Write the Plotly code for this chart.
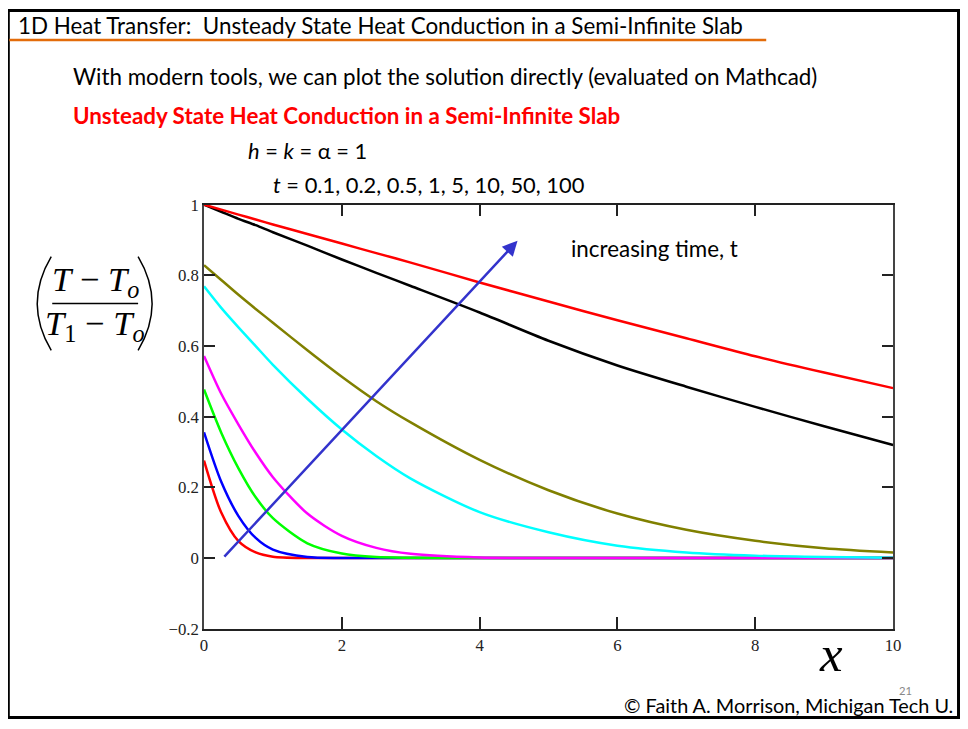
import plotly.graph_objects as go

x_vals = [0, 0.25, 0.5, 0.75, 1, 1.5, 2, 2.5, 3, 4, 5, 6, 7, 8, 9, 10]

# dimensionless temperature for each time
t_01 = [0.276, 0.129, 0.048, 0.016, 0.004, 0.0003, 0, 0, 0, 0, 0, 0, 0, 0, 0, 0]
t_02 = [0.356, 0.216, 0.119, 0.057, 0.024, 0.003, 0.0003, 0, 0, 0, 0, 0, 0, 0, 0, 0]
t_05 = [0.477, 0.355, 0.254, 0.172, 0.113, 0.042, 0.013, 0.003, 0.001, 0, 0, 0, 0, 0, 0, 0]
t_1 = [0.572, 0.465, 0.378, 0.298, 0.229, 0.126, 0.063, 0.029, 0.012, 0.0014, 0.0002, 0, 0, 0, 0, 0]
t_5 = [0.769, 0.708, 0.653, 0.6, 0.547, 0.451, 0.364, 0.289, 0.225, 0.13, 0.073, 0.035, 0.016, 0.007, 0.003, 0.001]
t_10 = [0.829, 0.787, 0.745, 0.705, 0.666, 0.588, 0.513, 0.444, 0.384, 0.278, 0.192, 0.126, 0.08, 0.049, 0.028, 0.016]
t_50 = [1.0, 0.98, 0.96, 0.942, 0.922, 0.884, 0.845, 0.807, 0.77, 0.695, 0.615, 0.545, 0.485, 0.428, 0.373, 0.32]
t_100 = [1.0, 0.986, 0.972, 0.958, 0.944, 0.917, 0.89, 0.863, 0.836, 0.78, 0.726, 0.673, 0.622, 0.571, 0.525, 0.481]

series = [
    ("t=0.1", t_01, "#ff0000"),
    ("t=0.2", t_02, "#0000ff"),
    ("t=0.5", t_05, "#00ff00"),
    ("t=1", t_1, "#ff00ff"),
    ("t=5", t_5, "#00ffff"),
    ("t=10", t_10, "#808000"),
    ("t=50", t_50, "#000000"),
    ("t=100", t_100, "#ff0000"),
]

x_ticks = [0, 2, 4, 6, 8, 10]
y_ticks = [-0.2, 0, 0.2, 0.4, 0.6, 0.8, 1]
y_ticktext = ["\u22120.2", "0", "0.2", "0.4", "0.6", "0.8", "1"]

# arrow "increasing time"
arrow_start = (0.275, 0.0)
arrow_end = (4.55, 0.898)

W, H = 968, 729
# the photographed page comes out slightly shrunk; target picture pixels are
# mapped back onto the page with this correction
SX, OX, SY, OY = 0.989, 2.7, 0.976, 8.9
FS = 1.018  # font correction

fig = go.Figure()
for name, ys, col in series:
    fig.add_trace(go.Scatter(x=x_vals, y=ys, mode="lines", name=name,
                             line=dict(color=col, width=2.5, shape="spline", smoothing=0.8),
                             showlegend=False, hoverinfo="skip"))

def fx(x):
    return (x - OX) / SX

def fy(y):
    return (y - OY) / SY

def px(x, raw=False):
    return (x if raw else fx(x)) / W

def py(y, raw=False):
    return 1 - (y if raw else fy(y)) / H

tickfont = dict(family="Liberation Serif", size=16.5 * FS, color="#222")

fig.update_layout(
    autosize=True,
    margin=dict(l=0, r=0, t=0, b=0),
    paper_bgcolor="white", plot_bgcolor="white",
    xaxis=dict(domain=[px(203), px(893)], range=[0, 10], tickvals=x_ticks,
               ticks="inside", ticklen=12, tickwidth=1.5, tickcolor="#222",
               showline=True, linecolor="#222", linewidth=1.5, mirror="ticks",
               showgrid=False, zeroline=False, tickfont=tickfont),
    yaxis=dict(domain=[py(630), py(205)], range=[-0.2, 1], tickvals=y_ticks,
               ticktext=y_ticktext,
               ticks="inside", ticklen=11, tickwidth=1.5, tickcolor="#222",
               showline=True, linecolor="#444", linewidth=1.5, mirror="ticks",
               showgrid=False, zeroline=False, tickfont=tickfont),
)

def P(x, y):
    return f"{px(x):.5f},{py(y):.5f}"

shapes = [
    # slide frame (kept just inside the page)
    dict(type="rect", xref="paper", yref="paper",
         x0=px(7), x1=px(966.5, raw=True), y0=py(727.5, raw=True), y1=py(1.5, raw=True),
         line=dict(color="black", width=3), fillcolor="rgba(0,0,0,0)", layer="above"),
    # orange underline of title
    dict(type="line", xref="paper", yref="paper", x0=px(8), x1=px(766), y0=py(40), y1=py(40),
         line=dict(color="#e36c0a", width=2.5)),
    # fraction bar of the y label
    dict(type="line", xref="paper", yref="paper", x0=px(51), x1=px(137), y0=py(304), y1=py(304),
         line=dict(color="black", width=1.5)),
    # parentheses of the y label
    dict(type="path", xref="paper", yref="paper",
         path=f"M {P(50, 257)} Q {P(22, 304)} {P(50, 351)}",
         line=dict(color="black", width=1.5)),
    dict(type="path", xref="paper", yref="paper",
         path=f"M {P(137, 257)} Q {P(165, 304)} {P(137, 351)}",
         line=dict(color="black", width=1.5)),
]
fig.update_layout(shapes=shapes)

ann = []
def text(x, y, s, size, color="black", family="Lato", xanchor="left", yanchor="middle"):
    ann.append(dict(xref="paper", yref="paper", x=px(x), y=py(y), text=s, showarrow=False,
                    font=dict(family=family, size=size * FS, color=color),
                    xanchor=xanchor, yanchor=yanchor))

text(15, 25, "1D Heat Transfer:  Unsteady State Heat Conduction in a Semi-Infinite Slab", 22)
text(70, 77, "With modern tools, we can plot the solution directly (evaluated on Mathcad)", 22)
text(70, 116, "<b>Unsteady State Heat Conduction in a Semi-Infinite Slab</b>", 22, color="#ff0000")
text(245, 151, "<i>h</i> = <i>k</i> = \u03b1 = 1", 21.5)
text(270, 185, "<i>t</i> = 0.1, 0.2, 0.5, 1, 5, 10, 50, 100", 21.5)
text(568, 249, "increasing time, t", 22)
text(955, 706, "\u00a9 Faith A. Morrison, Michigan Tech U.", 19.5, xanchor="right")
text(905, 692, "21", 11, color="#888", xanchor="center")
text(831, 655, "<i>x</i>", 50, family="Liberation Serif", xanchor="center")
# y label: (T - To)/(T1 - To)
text(94, 282, "<i>T</i> \u2212 <i>T<sub>o</sub></i>", 34, family="Liberation Serif", xanchor="center")
text(94, 326, "<i>T</i><sub>1</sub> \u2212 <i>T<sub>o</sub></i>", 34, family="Liberation Serif", xanchor="center")

ann.append(dict(x=arrow_end[0], y=arrow_end[1], ax=arrow_start[0], ay=arrow_start[1],
                xref="x", yref="y", axref="x", ayref="y", text="", showarrow=True,
                arrowhead=2, arrowsize=1.2, arrowwidth=2.5, arrowcolor="#3333cc"))
fig.update_layout(annotations=ann)

fig.write_html("out.html",
               config={"displayModeBar": False},
               default_width="968px",
               default_height="729px; margin:-8px")
